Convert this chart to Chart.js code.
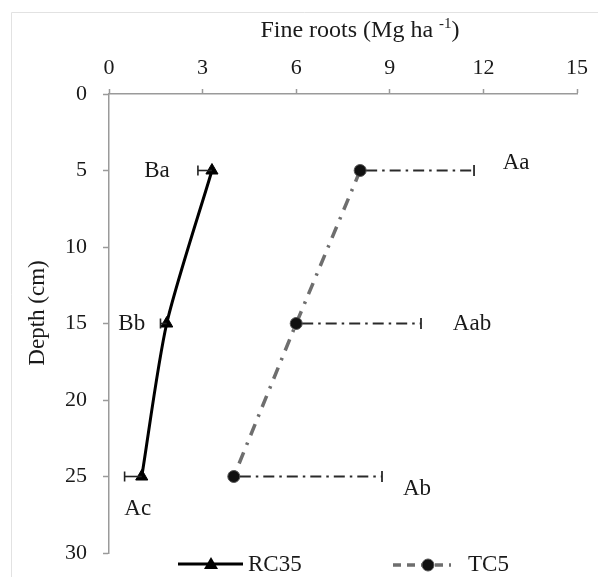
<!DOCTYPE html>
<html>
<head>
<meta charset="utf-8">
<script src="https://cdn.jsdelivr.net/npm/chart.js@4.4.1/dist/chart.umd.min.js"></script>
<style>
  html, body { margin: 0; padding: 0; background: #ffffff; }
  #wrap { position: relative; width: 598px; height: 577px; }
  canvas { display: block; }
</style>
</head>
<body>
<div id="wrap"><canvas id="c" width="598" height="577"></canvas></div>
<script>
// ---- data ----
const depths = [5, 15, 25];                 // Depth (cm)
const rc35 = [3.3, 1.85, 1.05];             // RC35 fine roots (Mg ha-1)
const rc35ErrLow = [2.85, 1.65, 0.5];       // lower end of RC35 error bar
const tc5 = [8.05, 6.0, 4.0];               // TC5 fine roots (Mg ha-1)
const tc5ErrHigh = [11.7, 10.0, 8.75];      // upper end of TC5 error bar
const rc35Letters = ['Ba', 'Bb', 'Ac'];
const tc5Letters = ['Aa', 'Aab', 'Ab'];
const seriesNames = ['RC35', 'TC5'];
const xTickValues = [0, 3, 6, 9, 12, 15];
const yTickValues = [0, 5, 10, 15, 20, 25, 30];
const xTitleMain = 'Fine roots (Mg ha ';
const xTitleSup = '-1';
const xTitleEnd = ')';
const yTitle = 'Depth (cm)';

// ---- styling / layout (not data) ----
const FONT = '"Liberation Serif", "Times New Roman", serif';
const AXIS = '#9a9a9a';
const TEXT = '#1a1a1a';
// label pixel offsets relative to anchor (rc35: point; tc5: error-bar end)
const rc35LabelOffsets = [[-55, 0], [-35, 0], [-4, 32]];
const tc5LabelOffsets = [[42, -8], [51, 0], [35, 12]];

const toXY = (xs) => xs.map((v, i) => ({ x: v, y: depths[i] }));

const decorations = {
  id: 'decorations',
  afterDatasetsDraw(chart) {
    const ctx = chart.ctx;
    const xs = chart.scales.x, ys = chart.scales.y;
    ctx.save();
    // error bars RC35 (solid, to the left)
    ctx.strokeStyle = '#222';
    ctx.lineWidth = 1.6;
    ctx.setLineDash([]);
    depths.forEach((d, i) => {
      const y = ys.getPixelForValue(d);
      const x0 = xs.getPixelForValue(rc35[i]);
      const x1 = xs.getPixelForValue(rc35ErrLow[i]);
      ctx.beginPath(); ctx.moveTo(x0, y); ctx.lineTo(x1, y); ctx.stroke();
      ctx.beginPath(); ctx.moveTo(x1, y - 5); ctx.lineTo(x1, y + 5); ctx.stroke();
    });
    // error bars TC5 (dash-dot, to the right)
    ctx.strokeStyle = '#2a2a2a';
    depths.forEach((d, i) => {
      const y = ys.getPixelForValue(d);
      const x0 = xs.getPixelForValue(tc5[i]);
      const x1 = xs.getPixelForValue(tc5ErrHigh[i]);
      ctx.setLineDash([11, 5, 2.5, 5]);
      ctx.lineWidth = 1.8;
      ctx.beginPath(); ctx.moveTo(x0 + 6, y); ctx.lineTo(x1, y); ctx.stroke();
      ctx.setLineDash([]);
      ctx.beginPath(); ctx.moveTo(x1, y - 5.5); ctx.lineTo(x1, y + 5.5); ctx.stroke();
    });
    ctx.setLineDash([]);
    // letters
    ctx.fillStyle = TEXT;
    ctx.font = '23px ' + FONT;
    ctx.textAlign = 'center';
    ctx.textBaseline = 'middle';
    depths.forEach((d, i) => {
      const y = ys.getPixelForValue(d);
      const xa = xs.getPixelForValue(rc35[i]);
      ctx.fillText(rc35Letters[i], xa + rc35LabelOffsets[i][0], y + rc35LabelOffsets[i][1]);
      const xb = xs.getPixelForValue(tc5ErrHigh[i]);
      ctx.fillText(tc5Letters[i], xb + tc5LabelOffsets[i][0], y + tc5LabelOffsets[i][1]);
    });
    ctx.restore();
  },
  afterDraw(chart) {
    const ctx = chart.ctx;
    ctx.save();
    // faint frame of the original figure
    ctx.strokeStyle = '#e2e2e2';
    ctx.lineWidth = 1;
    ctx.beginPath(); ctx.moveTo(11.5, 577); ctx.lineTo(11.5, 12.5); ctx.lineTo(598, 12.5); ctx.stroke();

    // x axis title with superscript
    ctx.fillStyle = TEXT;
    ctx.textBaseline = 'alphabetic';
    ctx.textAlign = 'left';
    const mainFont = '24px ' + FONT, supFont = '15px ' + FONT;
    ctx.font = mainFont; const w1 = ctx.measureText(xTitleMain).width;
    const w3 = ctx.measureText(xTitleEnd).width;
    ctx.font = supFont; const w2 = ctx.measureText(xTitleSup).width;
    const total = w1 + w2 + w3;
    let x = 360 - total / 2;
    const base = 37;
    ctx.font = mainFont; ctx.fillText(xTitleMain, x, base); x += w1;
    ctx.font = supFont; ctx.fillText(xTitleSup, x, base - 9); x += w2;
    ctx.font = mainFont; ctx.fillText(xTitleEnd, x, base);

    // y axis title
    ctx.save();
    ctx.translate(38, 313);
    ctx.rotate(-Math.PI / 2);
    ctx.textAlign = 'center';
    ctx.textBaseline = 'middle';
    ctx.font = '23px ' + FONT;
    ctx.fillText(yTitle, 0, 0);
    ctx.restore();

    // legend
    const ly = 564;
    ctx.setLineDash([]);
    ctx.strokeStyle = '#000'; ctx.lineWidth = 3;
    ctx.beginPath(); ctx.moveTo(178, ly); ctx.lineTo(243, ly); ctx.stroke();
    ctx.fillStyle = '#000';
    ctx.beginPath(); ctx.moveTo(211, ly - 7); ctx.lineTo(218, ly + 5); ctx.lineTo(204, ly + 5); ctx.closePath(); ctx.fill();
    ctx.fillStyle = TEXT; ctx.font = '23px ' + FONT; ctx.textAlign = 'left'; ctx.textBaseline = 'middle';
    ctx.fillText(seriesNames[0], 248, ly + 1);

    ctx.strokeStyle = '#6e6e6e'; ctx.lineWidth = 3.5; ctx.setLineDash([8, 6]);
    ctx.beginPath(); ctx.moveTo(393, ly + 1); ctx.lineTo(451, ly + 1); ctx.stroke();
    ctx.setLineDash([]);
    ctx.fillStyle = '#111'; ctx.strokeStyle = '#555'; ctx.lineWidth = 1;
    ctx.beginPath(); ctx.arc(428, ly + 1, 6, 0, Math.PI * 2); ctx.fill(); ctx.stroke();
    ctx.fillStyle = TEXT;
    ctx.fillText(seriesNames[1], 468, ly + 1);
    ctx.restore();
  }
};

new Chart(document.getElementById('c'), {
  type: 'scatter',
  data: {
    datasets: [
      {
        label: seriesNames[0],
        data: toXY(rc35),
        showLine: true,
        borderColor: '#000',
        borderWidth: 3,
        tension: 0.25,
        pointStyle: 'triangle',
        pointRadius: 7,
        pointBackgroundColor: '#000',
        pointBorderColor: '#000',
        pointBorderWidth: 1,
        clip: false
      },
      {
        label: seriesNames[1],
        data: toXY(tc5),
        showLine: true,
        borderColor: '#6e6e6e',
        borderWidth: 3.5,
        borderDash: [12, 8, 2.5, 8],
        tension: 0,
        pointStyle: 'circle',
        pointRadius: 6,
        pointBackgroundColor: '#111',
        pointBorderColor: '#555',
        pointBorderWidth: 1,
        clip: false
      }
    ]
  },
  options: {
    responsive: false,
    animation: false,
    layout: { padding: { left: 0, top: 0, right: 21, bottom: 24 } },
    plugins: { legend: { display: false }, tooltip: { enabled: false } },
    scales: {
      x: {
        type: 'linear',
        position: 'top',
        min: 0, max: 15,
        afterBuildTicks: (s) => { s.ticks = xTickValues.map(v => ({ value: v })); },
        afterFit: (s) => { s.height = 94; s.paddingLeft = 0; s.paddingRight = 0; },
        grid: { drawOnChartArea: false, drawTicks: true, tickLength: 5, color: AXIS, tickWidth: 1.5 },
        border: { display: true, color: AXIS, width: 1.5 },
        ticks: { color: TEXT, font: { family: FONT, size: 22 }, padding: 8, maxRotation: 0 },
        title: { display: false }
      },
      y: {
        type: 'linear',
        position: 'left',
        reverse: true,
        min: 0, max: 30,
        afterBuildTicks: (s) => { s.ticks = yTickValues.map(v => ({ value: v })); },
        afterFit: (s) => { s.width = 109; s.paddingTop = 0; s.paddingBottom = 0; },
        grid: { drawOnChartArea: false, drawTicks: true, tickLength: 6, color: AXIS, tickWidth: 1.5 },
        border: { display: true, color: AXIS, width: 1.5 },
        ticks: { color: TEXT, font: { family: FONT, size: 22 }, padding: 16 },
        title: { display: false }
      }
    }
  },
  plugins: [decorations]
});
</script>
</body>
</html>
